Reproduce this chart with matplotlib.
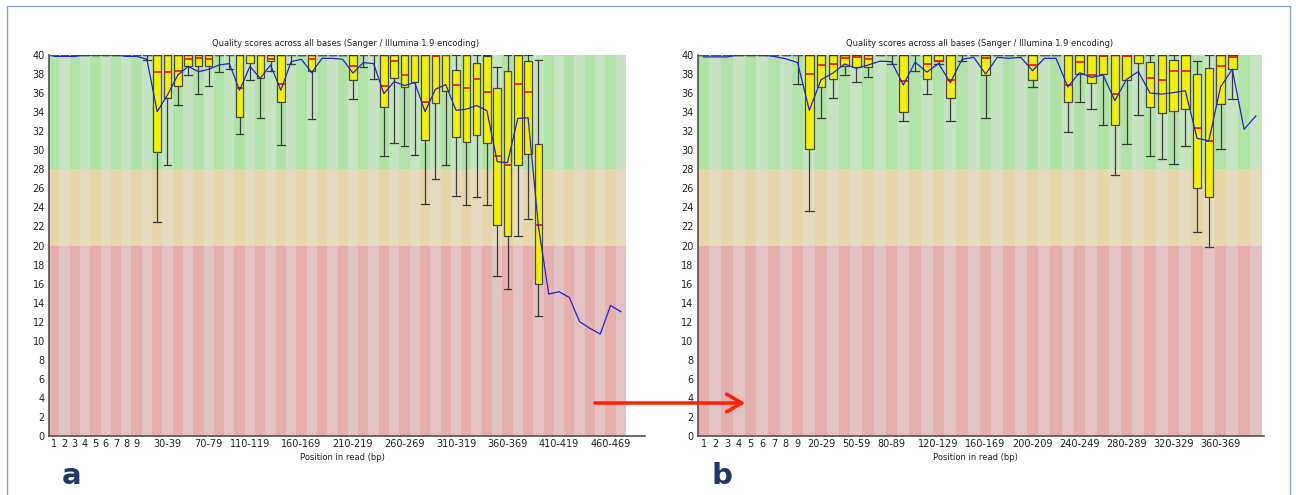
import numpy as np
import matplotlib
matplotlib.use("Agg")
import matplotlib.pyplot as plt
from matplotlib.patches import FancyArrowPatch, Rectangle

plt.rcParams.update({"font.family": "DejaVu Sans", "font.size": 7})

# ── Data: per-position quality summaries ─────────────────────────────────────
NAN = np.nan

# panel a: 56 columns (1..9 single bases, then 10-bp groups)
mean_a = [39.85, 39.85, 39.85, 40.0, 40.0, 40.0, 40.0, 39.85, 39.85, 39.55,
          34.05, 35.8, 37.9, 38.8, 38.25, 38.5, 38.95, 39.1, 36.3, 38.8,
          37.55, 38.95, 36.3, 39.3, 39.55, 38.15, 39.65, 39.65, 39.55, 38.1,
          39.2, 39.1, 35.95, 37.2, 36.8, 37.1, 34.05, 36.4, 36.9, 34.2,
          34.3, 34.7, 34.15, 28.8, 28.7, 33.35, 33.4, 22.0, 14.9, 15.15,
          14.55, 12.0, 11.3, 10.7, 13.7, 13.05]
med_a = [40, 40, 40, 40, 40, 40, 40, 40, 40, 40,
         38.2, 38.2, 38.35, 39.55, 39.65, 39.55, 40, 40, 36.5, 40,
         40, 39.55, 37.0, 40, 40, 39.55, 40, 40, 40, 38.85,
         40, 40, 36.75, 39.4, 37.85, 40, 35.1, 39.9, 40, 36.8,
         36.5, 37.45, 36.15, 29.35, 28.5, 37.0, 36.15, 22.2, NAN, NAN,
         NAN, NAN, NAN, NAN, NAN, NAN]
q1_a = [40, 40, 40, 40, 40, 40, 40, 40, 40, 40,
        29.85, 35.45, 36.7, 38.8, 38.8, 38.8, 40, 40, 33.5, 39.2,
        37.55, 39.4, 35.1, 40, 40, 38.35, 40, 40, 40, 37.4,
        40, 40, 34.5, 37.55, 36.6, 37.2, 31.05, 35.0, 36.25, 31.35,
        30.85, 31.55, 30.8, 22.15, 21.0, 28.45, 29.6, 16.0, NAN, NAN,
        NAN, NAN, NAN, NAN, NAN, NAN]
q3_a = [40] * 39 + [38.45, 40, 39.2, 39.85, 36.5, 38.35, 40, 39.4, 30.7] + [NAN] * 8
lo_a = [40, 40, 40, 40, 40, 40, 40, 40, 40, 39.5,
        22.5, 28.5, 34.7, 37.9, 35.9, 36.7, 38.2, 38.5, 31.7, 37.4,
        33.4, 38.35, 30.5, 39.1, 40, 33.25, 40, 40, 40, 35.4,
        38.7, 37.45, 29.4, 30.8, 30.4, 29.5, 24.4, 27.0, 28.5, 25.2,
        24.2, 25.1, 24.2, 16.75, 15.4, 21.0, 22.75, 12.6, NAN, NAN,
        NAN, NAN, NAN, NAN, NAN, NAN]
hi_a = [40] * 43 + [38.7, 40, 40, 40, 39.45] + [NAN] * 8

# panel b: 48 columns
mean_b = [39.8, 39.8, 39.8, 40.0, 40.0, 40.0, 39.85, 39.6, 39.2, 34.2,
          37.4, 38.1, 39.05, 38.6, 38.95, 39.35, 39.3, 36.85, 39.25, 38.2,
          39.1, 37.1, 39.55, 39.75, 38.0, 39.75, 39.65, 39.75, 38.35, 39.65,
          39.65, 36.65, 38.15, 37.65, 37.9, 35.2, 37.45, 38.25, 36.0, 35.9,
          36.05, 36.25, 31.25, 31.0, 36.65, 38.5, 32.2, 33.6]
med_b = [40, 40, 40, 40, 40, 40, 40, 40, 40, 38.0,
         39.0, 39.1, 39.7, 39.75, 39.6, 40, 40, 37.3, 40, 39.1,
         39.4, 37.4, 40, 40, 39.65, 40, 40, 40, 38.9, 40,
         40, 36.9, 39.3, 37.9, 39.9, 35.9, 39.9, 40, 37.6, 37.4,
         38.3, 38.3, 32.3, 31.0, 38.8, 39.8, NAN, NAN]
q1_b = [40, 40, 40, 40, 40, 40, 40, 40, 40, 30.15,
        36.6, 37.45, 38.8, 38.7, 38.7, 40, 40, 34.0, 40, 37.45,
        39.4, 35.45, 40, 40, 37.95, 40, 40, 40, 37.4, 40,
        40, 35.05, 38.0, 37.1, 38.0, 32.6, 37.4, 39.2, 34.5, 33.95,
        34.15, 34.3, 26.05, 25.05, 34.9, 38.5, NAN, NAN]
q3_b = [40] * 38 + [39.3, 40, 39.45, 40, 38.0, 38.6, 40, 40] + [NAN] * 2
lo_b = [40, 40, 40, 40, 40, 40, 40, 40, 37.0, 23.65,
        33.35, 35.45, 37.95, 37.15, 37.7, 40, 39.1, 33.05, 38.3, 35.95,
        39.1, 33.05, 39.35, 40, 33.35, 40, 40, 40, 36.65, 40,
        40, 31.95, 35.1, 34.35, 32.6, 27.4, 30.7, 33.75, 29.4, 29.1,
        28.6, 30.4, 21.4, 19.8, 30.15, 35.35, NAN, NAN]
hi_b = [40] * 42 + [39.35, 40, 40, 40] + [NAN] * 2

# x categories and the labels FastQC actually printed
cats_a = [str(i) for i in range(1, 10)] + [f"{s}-{s + 9}" for s in range(10, 480, 10)]
cats_b = [str(i) for i in range(1, 10)] + [f"{s}-{s + 9}" for s in range(10, 400, 10)]
shown_a = ["1", "2", "3", "4", "5", "6", "7", "8", "9", "30-39", "70-79",
           "110-119", "160-169", "210-219", "260-269", "310-319", "360-369",
           "410-419", "460-469"]
shown_b = ["1", "2", "3", "4", "5", "6", "7", "8", "9", "20-29", "50-59",
           "80-89", "120-129", "160-169", "200-209", "240-249", "280-289",
           "320-329", "360-369"]

# quality bands (low, high) and stripe colours (dark, light)
BANDS = [(0, 20), (20, 28), (28, 40)]
BAND_COLS = [("#E5AFAF", "#E2C3C3"), ("#E5D7AA", "#E5DCBF"), ("#B1E3A9", "#C6E4C2")]

TITLE = "Quality scores across all bases (Sanger / Illumina 1.9 encoding)"
XLABEL = "Position in read (bp)"

# ── Figure geometry (pixels) ─────────────────────────────────────────────────
W, H = 1296, 495
fig = plt.figure(figsize=(W / 100, H / 100), dpi=100)
fig.patch.set_facecolor("white")


def fx(px):
    return px / W


def fy(py):
    return 1 - py / H


def draw_panel(left, plot_right, axis_right, cats, shown, mean, med, q1, q3, lo, hi):
    n = len(cats)
    colw = (plot_right - left) / n
    ax = fig.add_axes([fx(left), fy(436), (axis_right - left) / W, 381 / H])
    ax.set_xlim(-0.5, -0.5 + (axis_right - left) / colw)
    ax.set_ylim(0, 40)
    x = np.arange(n)

    # striped quality background
    for (b0, b1), (dark, light) in zip(BANDS, BAND_COLS):
        ax.bar(x, b1 - b0, bottom=b0, width=1.0, linewidth=0,
               color=[dark if i % 2 == 0 else light for i in x], zorder=0)

    stats, pos = [], []
    for i in range(n):
        if np.isnan(med[i]):
            continue
        stats.append(dict(med=med[i], q1=q1[i], q3=q3[i],
                          whislo=lo[i], whishi=hi[i], fliers=[]))
        pos.append(i)
    ax.bxp(stats, positions=pos, widths=0.72, capwidths=0.72,
           patch_artist=True, showfliers=False, manage_ticks=False,
           boxprops=dict(facecolor="#F2F200", edgecolor="#4A4A4A", linewidth=0.9),
           medianprops=dict(color="#E62200", linewidth=1.3),
           whiskerprops=dict(color="#3C3C3C", linewidth=0.9),
           capprops=dict(color="#3C3C3C", linewidth=0.9))

    ax.plot(x, mean, color="#2424D0", linewidth=0.9, zorder=6)

    ax.set_yticks(np.arange(0, 41, 2))
    ax.set_xticks([cats.index(s) for s in shown])
    ax.set_xticklabels(shown)
    ax.tick_params(length=0, labelsize=7, colors="#222222")
    ax.tick_params(axis="y", pad=3)
    ax.tick_params(axis="x", pad=2)
    ax.spines[["top", "right"]].set_visible(False)
    for s in ("left", "bottom"):
        ax.spines[s].set_color("#505050")
        ax.spines[s].set_linewidth(1.2)
    ax.set_facecolor("white")
    return ax


ax_a = draw_panel(49, 626, 645, cats_a, shown_a, mean_a, med_a, q1_a, q3_a, lo_a, hi_a)
ax_b = draw_panel(697.7, 1261.7, 1264, cats_b, shown_b, mean_b, med_b, q1_b, q3_b, lo_b, hi_b)

# titles and axis labels
for cx, xl in [(346, 342), (980, 975)]:
    fig.text(fx(cx), fy(44), TITLE, ha="center", va="center", fontsize=6, color="#222222")
    fig.text(fx(xl), fy(458), XLABEL, ha="center", va="center", fontsize=6, color="#222222")

# panel letters
for px, letter in [(62, "a"), (712, "b")]:
    fig.text(fx(px), fy(476), letter, ha="left", va="center", fontsize=21,
             fontweight="bold", color="#1F3864")

# red arrow linking the panels
fig.add_artist(FancyArrowPatch((fx(592), fy(403)), (fx(748), fy(403)),
                               transform=fig.transFigure,
                               arrowstyle="->,head_length=0.55,head_width=0.32",
                               mutation_scale=20, color="#FF2200", linewidth=2.5))

# thin outer frame
fig.add_artist(Rectangle((fx(7), fy(497)), (1290 - 7) / W, (497 - 6) / H,
                         transform=fig.transFigure, fill=False,
                         edgecolor="#8AA4C4", linewidth=1.0))

fig.savefig("out.png", dpi=100, facecolor="white")
